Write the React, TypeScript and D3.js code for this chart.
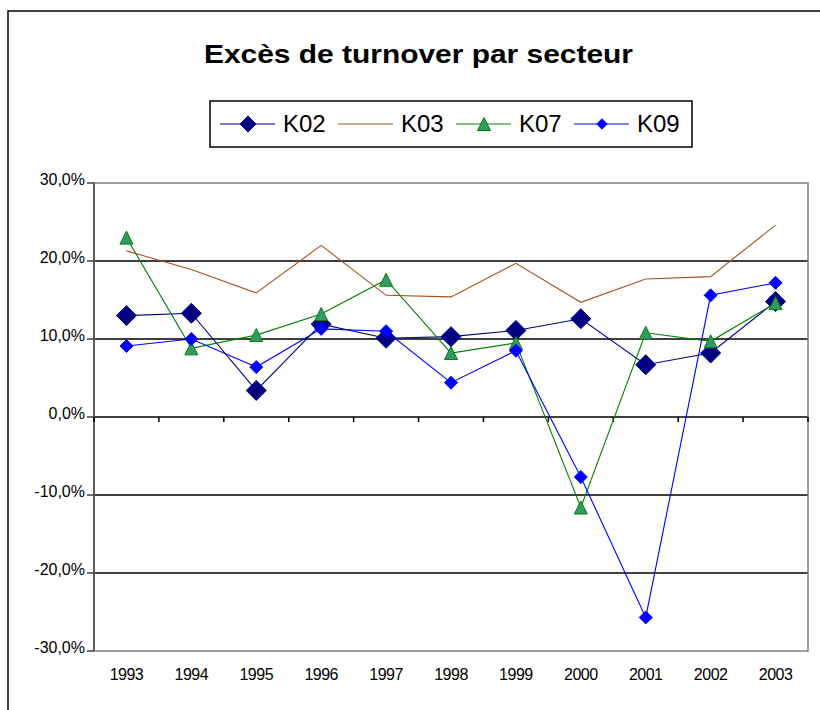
import { useEffect, useRef } from "react";
import * as d3 from "d3";

const years = ["1993", "1994", "1995", "1996", "1997", "1998", "1999", "2000", "2001", "2002", "2003"];
const k02 = [13.0, 13.3, 3.4, 11.9, 10.1, 10.3, 11.1, 12.6, 6.7, 8.2, 14.8];
const k03 = [21.3, 18.9, 15.9, 22.0, 15.6, 15.4, 19.7, 14.7, 17.7, 18.0, 24.6];
const k07 = [23.0, 8.8, 10.5, 13.2, 17.6, 8.2, 9.5, -11.6, 10.8, 9.7, 14.6];
const k09 = [9.1, 10.0, 6.4, 11.3, 11.0, 4.4, 8.5, -7.7, -25.7, 15.6, 17.2];
const yTicks = [-30, -20, -10, 0, 10, 20, 30];

type Marker = "bigDiamond" | "none" | "triangle" | "diamond";

const SERIES: { name: string; values: number[]; line: string; fill: string; marker: Marker }[] = [
  { name: "K02", values: k02, line: "#000080", fill: "#000080", marker: "bigDiamond" },
  { name: "K03", values: k03, line: "#a9501f", fill: "none", marker: "none" },
  { name: "K07", values: k07, line: "#008000", fill: "#339966", marker: "triangle" },
  { name: "K09", values: k09, line: "#0000ff", fill: "#0000ff", marker: "diamond" },
];

const FONT = "'Liberation Sans', Arial, sans-serif";

function drawMarker(
  g: d3.Selection<SVGGElement, unknown, null, undefined>,
  kind: Marker,
  x: number,
  y: number,
  fill: string,
  stroke: string,
  scale = 1
) {
  if (kind === "none") return;
  if (kind === "bigDiamond" || kind === "diamond") {
    const r = (kind === "bigDiamond" ? 10 : 6.5) * scale;
    g.append("path")
      .attr("d", `M${x},${y - r}L${x + r},${y}L${x},${y + r}L${x - r},${y}Z`)
      .attr("fill", fill)
      .attr("stroke", stroke)
      .attr("stroke-width", 1);
  } else {
    const h = 6.5 * scale;
    g.append("path")
      .attr("d", `M${x},${y - h}L${x + h},${y + h}L${x - h},${y + h}Z`)
      .attr("fill", fill)
      .attr("stroke", stroke)
      .attr("stroke-width", 1);
  }
}

export default function App() {
  const ref = useRef<SVGSVGElement>(null);

  useEffect(() => {
    if (!ref.current) return;
    const svg = d3.select(ref.current);
    svg.selectAll("*").remove();

    const plot = { left: 94, right: 808, top: 183, bottom: 651 };

    const x = d3.scaleBand().domain(years).range([plot.left, plot.right]);
    const y = d3.scaleLinear().domain([-30, 30]).range([plot.bottom, plot.top]);

    // outer chart frame, runs off the right and bottom edge
    svg.append("rect")
      .attr("x", 8)
      .attr("y", 11)
      .attr("width", 830)
      .attr("height", 720)
      .attr("fill", "white")
      .attr("stroke", "#000")
      .attr("stroke-width", 1.5);

    // title
    svg.append("text")
      .attr("x", 204)
      .attr("y", 63)
      .attr("font-family", FONT)
      .attr("font-weight", "bold")
      .attr("font-size", 26)
      .attr("textLength", 429)
      .attr("lengthAdjust", "spacingAndGlyphs")
      .text("Excès de turnover par secteur");

    // legend
    const lg = svg.append("g");
    lg.append("rect")
      .attr("x", 210)
      .attr("y", 101)
      .attr("width", 482)
      .attr("height", 46)
      .attr("fill", "white")
      .attr("stroke", "#000")
      .attr("stroke-width", 1.5);
    SERIES.forEach((s, i) => {
      const x0 = 220 + i * 118;
      lg.append("line")
        .attr("x1", x0)
        .attr("x2", x0 + 55)
        .attr("y1", 124)
        .attr("y2", 124)
        .attr("stroke", s.line)
        .attr("stroke-width", 1.2);
      drawMarker(lg, s.marker, x0 + 28, 124, s.fill, s.line, s.marker === "triangle" ? 1 : 0.8);
      lg.append("text")
        .attr("x", x0 + 63)
        .attr("y", 132)
        .attr("font-family", FONT)
        .attr("font-size", 24)
        .text(s.name);
    });

    // gridlines
    const grid = svg.append("g");
    yTicks
      .filter((t) => t !== -30 && t !== 30)
      .forEach((t) => {
        grid.append("line")
          .attr("x1", plot.left)
          .attr("x2", plot.right)
          .attr("y1", y(t))
          .attr("y2", y(t))
          .attr("stroke", "#000")
          .attr("stroke-width", 1.5);
      });

    // plot area border (top, right, bottom)
    svg.append("path")
      .attr("d", `M${plot.left},${plot.top}H${plot.right}V${plot.bottom}H${plot.left}`)
      .attr("fill", "none")
      .attr("stroke", "#808080")
      .attr("stroke-width", 1.5);

    // value axis
    const yAxis = svg.append("g");
    yAxis.append("line")
      .attr("x1", plot.left)
      .attr("x2", plot.left)
      .attr("y1", plot.top)
      .attr("y2", plot.bottom)
      .attr("stroke", "#606060")
      .attr("stroke-width", 2);
    yTicks.forEach((t) => {
      yAxis.append("line")
        .attr("x1", plot.left - 7)
        .attr("x2", plot.left)
        .attr("y1", y(t))
        .attr("y2", y(t))
        .attr("stroke", "#404040")
        .attr("stroke-width", 1.5);
      yAxis.append("text")
        .attr("x", plot.left - 9)
        .attr("y", y(t) + 2)
        .attr("text-anchor", "end")
        .attr("font-family", FONT)
        .attr("font-size", 16)
        .text(`${t.toFixed(1).replace(".", ",")}%`);
    });

    // category axis crossing at 0
    const xAxis = svg.append("g");
    const bounds = years.map((yr) => x(yr) as number).concat([plot.right]);
    bounds.forEach((bx) => {
      xAxis.append("line")
        .attr("x1", bx)
        .attr("x2", bx)
        .attr("y1", y(0))
        .attr("y2", y(0) + 5)
        .attr("stroke", "#000")
        .attr("stroke-width", 1.5);
    });
    years.forEach((yr) => {
      xAxis.append("text")
        .attr("x", (x(yr) as number) + x.bandwidth() / 2)
        .attr("y", 680)
        .attr("text-anchor", "middle")
        .attr("font-family", FONT)
        .attr("font-size", 16)
        .attr("letter-spacing", -0.5)
        .text(yr);
    });

    // series
    const line = d3
      .line<number>()
      .x((_, i) => (x(years[i]) as number) + x.bandwidth() / 2)
      .y((v) => y(v));

    SERIES.forEach((s) => {
      const g = svg.append("g");
      g.append("path")
        .attr("d", line(s.values))
        .attr("fill", "none")
        .attr("stroke", s.line)
        .attr("stroke-width", 1.1);
      s.values.forEach((v, i) => {
        drawMarker(g, s.marker, (x(years[i]) as number) + x.bandwidth() / 2, y(v), s.fill, s.line);
      });
    });
  }, []);

  return (
    <svg
      ref={ref}
      width={820}
      height={710}
      style={{ position: "absolute", left: 0, top: 0, background: "white" }}
    />
  );
}
